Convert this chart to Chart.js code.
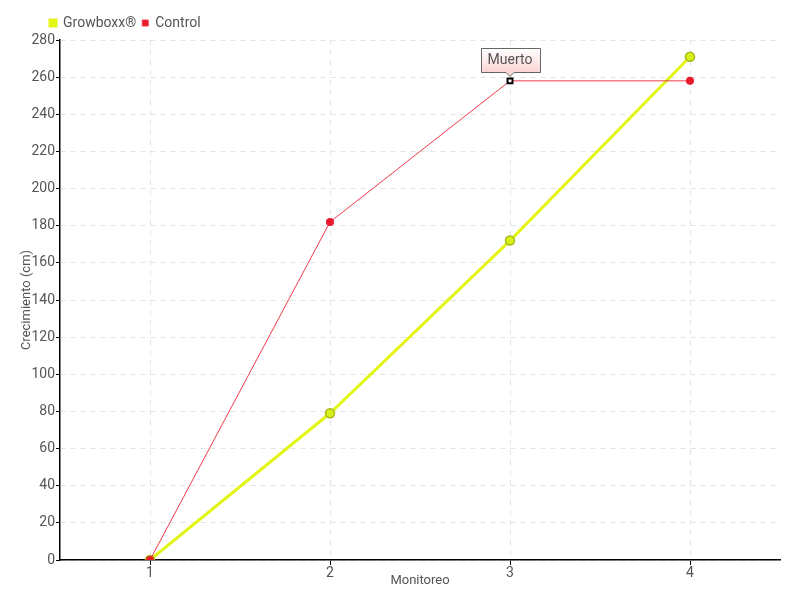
<!DOCTYPE html>
<html>
<head>
<meta charset="utf-8">
<script src="https://cdn.jsdelivr.net/npm/chart.js@4"></script>
<style>
  html, body { margin: 0; padding: 0; background: #fff; }
  #wrap { width: 800px; height: 600px; }
</style>
</head>
<body>
<div id="wrap"><canvas id="grafico" width="800" height="600"></canvas></div>
<script>
// datos del gráfico
const monitoreos = ['1', '2', '3', '4'];
const growboxx = [0, 79, 172, 271];
const control = [0, 182, 258, 258];
const yMin = 0;
const yMax = 280;
const yPaso = 20;
const notaTexto = 'Muerto';
const notaIndice = 2;

const fuente = "Roboto, 'DejaVu Sans', sans-serif";
const gris = '#555';

// caja "Muerto" sobre el punto de control
const notaPlugin = {
  id: 'nota',
  afterDatasetsDraw(chart) {
    const ctx = chart.ctx;
    const x = chart.scales.x.getPixelForValue(notaIndice);
    const y = chart.scales.y.getPixelForValue(control[notaIndice]);
    ctx.save();
    ctx.font = '14px ' + fuente;
    const w = 59;
    const h = 24;
    const bx = Math.round(x - w / 2) + 0.5, by = Math.round(y - 33) + 0.5;
    const grad = ctx.createLinearGradient(0, by, 0, by + h);
    grad.addColorStop(0, '#ffffff');
    grad.addColorStop(1, '#fcd4d4');
    ctx.beginPath();
    ctx.moveTo(bx, by);
    ctx.lineTo(bx + w, by);
    ctx.lineTo(bx + w, by + h);
    ctx.lineTo(x + 4, by + h);
    ctx.lineTo(x, by + h + 4);
    ctx.lineTo(x - 4, by + h);
    ctx.lineTo(bx, by + h);
    ctx.closePath();
    ctx.fillStyle = grad;
    ctx.fill();
    ctx.strokeStyle = '#666';
    ctx.lineWidth = 1;
    ctx.stroke();
    ctx.fillStyle = '#555';
    ctx.textAlign = 'center';
    ctx.textBaseline = 'middle';
    ctx.fillText(notaTexto, x, by + h / 2);
    ctx.restore();
  }
};

// desplazar la leyenda hacia la derecha
const leyendaPlugin = {
  id: 'leyendaPos',
  afterUpdate(chart) {
    chart.legend.left += 25;
  }
};

new Chart(document.getElementById('grafico'), {
  type: 'line',
  data: {
    labels: monitoreos,
    datasets: [
      {
        label: 'Growboxx®',
        data: growboxx,
        borderColor: '#e2f516',
        backgroundColor: '#e2f516',
        borderWidth: 3,
        pointRadius: 4.5,
        pointBackgroundColor: '#d8f01a',
        pointBorderColor: '#a7b818',
        pointBorderWidth: 1.5,
        tension: 0,
        order: 2
      },
      {
        label: 'Control',
        data: control,
        borderColor: '#f03a4a',
        backgroundColor: '#e8192a',
        borderWidth: 1,
        pointStyle: ['circle', 'circle', 'rect', 'circle'],
        pointRadius: [4, 4, 3.5, 4],
        pointBackgroundColor: ['#e8192a', '#e8192a', '#ffffff', '#e8192a'],
        pointBorderColor: ['#e8192a', '#e8192a', '#000000', '#e8192a'],
        pointBorderWidth: [0, 0, 2, 0],
        tension: 0,
        order: 1
      }
    ]
  },
  options: {
    responsive: false,
    animation: false,
    layout: { padding: { left: 19, right: 20, top: 10, bottom: 11 } },
    scales: {
      x: {
        offset: true,
        grid: {
          color: '#e3e3e3',
          tickColor: '#000',
          tickLength: 5,
          offset: false
        },
        border: { color: '#000', width: 1.5, dash: [5, 5] },
        ticks: { color: gris, font: { family: fuente, size: 14 }, padding: 0 },
        title: { display: true, text: 'Monitoreo', color: gris, font: { family: fuente, size: 13 }, padding: { top: 0, bottom: 0 } },
        afterFit(scale) { scale.height = 29; }
      },
      y: {
        min: yMin,
        max: yMax,
        ticks: { stepSize: yPaso, color: gris, font: { family: fuente, size: 14 }, padding: 1 },
        grid: {
          color: '#e3e3e3',
          tickColor: '#000',
          tickLength: 4
        },
        border: { color: '#000', width: 1.5, dash: [5, 5] },
        title: { display: true, text: 'Crecimiento (cm)', color: gris, font: { family: fuente, size: 13 }, padding: { top: 0, bottom: 0 } },
        afterFit(scale) { scale.width = 41; }
      }
    },
    plugins: {
      legend: {
        align: 'start',
        labels: {
          boxWidth: 6,
          boxHeight: 6,
          padding: 6,
          color: gris,
          font: { family: fuente, size: 14 },
          sort: (a, b) => a.datasetIndex - b.datasetIndex
        }
      },
      tooltip: { enabled: false }
    }
  },
  plugins: [notaPlugin, leyendaPlugin]
});
</script>
</body>
</html>
